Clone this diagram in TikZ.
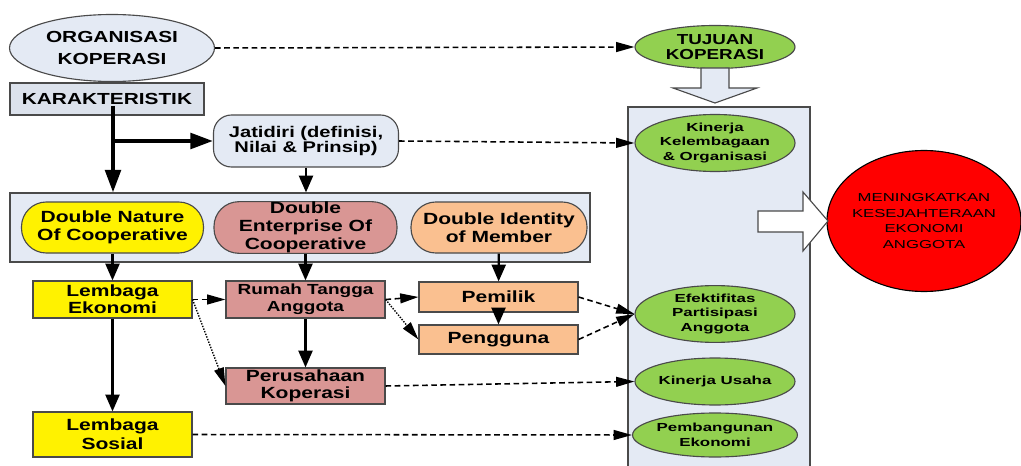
\documentclass[tikz,border=0pt]{standalone}
\usepackage{fontspec}
\setmainfont{Liberation Sans}[FakeStretch=1.3]
\newfontfamily\wideface{Liberation Sans}[FakeStretch=1.45]
\usetikzlibrary{arrows.meta,shapes.geometric,calc}
\definecolor{paleblue}{HTML}{E4EAF4}
\definecolor{greyblue}{HTML}{DCE2EC}
\definecolor{linegray}{HTML}{4A4A4A}
\definecolor{leaf}{HTML}{92D050}
\definecolor{rose}{HTML}{D99694}
\definecolor{apricot}{HTML}{FAC090}
\newcommand{\pxu}{0.025cm}
\newcommand{\mainfnt}[2]{\bfseries\fontsize{#1}{#2}\selectfont}

\begin{document}
\begin{tikzpicture}
    [x=\pxu, y=-\pxu,
    box/.style={rectangle, draw=linegray, line width=0.8pt,
        inner sep=0pt, align=center, font=\mainfnt{11.5}{12.3}},
    pill/.style={box, rounded corners=0.62cm,
        minimum width=182*\pxu, minimum height=51*\pxu, font=\mainfnt{11.5}{13}},
    oval/.style={ellipse, draw=linegray, line width=0.8pt,
        inner sep=0pt, align=center},
    goal/.style={oval, fill=leaf, minimum width=160*\pxu,
        font=\wideface\bfseries\fontsize{8.3}{10.4}\selectfont},
    link/.style={-{Triangle[length=12pt,width=10pt]}, line width=1.6pt},
    heavy/.style={-{Triangle[length=16pt,width=11pt]}, line width=2.8pt},
    dashlink/.style={-{Triangle[length=13pt,width=7pt]}, line width=1.1pt,
        dash pattern=on 4pt off 2.5pt},
    dotlink/.style={-{Triangle[length=13pt,width=7pt]}, line width=1pt,
        dash pattern=on 1pt off 1pt},
    blockarrow/.style={draw=linegray, line width=0.8pt, line join=miter}]

    \useasboundingbox (0,0) rectangle (1021,466);

    % right column
    \fill[paleblue] (628,107) rectangle (810,470);
    \draw[linegray, line width=1pt] (628,470) |- (810,107) -- (810,470);

    % left side
    \node[oval, fill=paleblue, minimum width=205*\pxu, minimum height=67*\pxu,
        font=\mainfnt{11.4}{15.4}] (org) at (112,48) {ORGANISASI\\KOPERASI};
    \node[box, fill=greyblue, minimum width=194*\pxu, minimum height=32*\pxu,
        font=\mainfnt{11.4}{13}] (karak) at (107,99) {KARAKTERISTIK};
    \node[box, fill=paleblue, rounded corners=0.45cm, minimum width=185*\pxu,
        minimum height=52*\pxu, font=\mainfnt{11}{11}] (jati) at (306,141)
        {Jatidiri (definisi,\\Nilai \& Prinsip)};

    \node[box, fill=paleblue, minimum width=580*\pxu, minimum height=69*\pxu]
        (traits) at (300,227.5) {};
    \node[pill, fill=yellow] (nature) at (112.5,227.5)
        {Double Nature\\Of Cooperative};
    \node[pill, fill=rose, minimum width=183*\pxu] (enterprise) at (305.5,227.5)
        {Double\\Enterprise Of\\Cooperative};
    \node[pill, fill=apricot, minimum width=176*\pxu] (identity) at (499,227.5)
        {Double Identity\\of Member};

    \node[box, fill=yellow, minimum width=159*\pxu, minimum height=37*\pxu]
        (lekon) at (112.5,299.5) {Lembaga\\Ekonomi};
    \node[box, fill=rose, minimum width=159*\pxu, minimum height=37*\pxu,
        font=\mainfnt{10.4}{12}] (rumah) at (305.5,299.5) {Rumah Tangga\\Anggota};
    \node[box, fill=apricot, minimum width=159*\pxu, minimum height=30*\pxu]
        (pemilik) at (498.5,297) {Pemilik};
    \node[box, fill=apricot, minimum width=159*\pxu, minimum height=29*\pxu]
        (pengguna) at (498.5,339.5) {Pengguna};
    \node[box, fill=rose, minimum width=159*\pxu, minimum height=36*\pxu]
        (perus) at (305.5,386) {Perusahaan\\Koperasi};
    \node[box, fill=yellow, minimum width=159*\pxu, minimum height=45*\pxu,
        font=\mainfnt{11.5}{13.5}] (lsosial) at (112.5,434.5) {Lembaga\\Sosial};

    % goals
    \node[goal, minimum height=43*\pxu, font=\mainfnt{10.3}{10.7}]
        (tujuan) at (715,47) {TUJUAN\\KOPERASI};
    \node[goal, minimum height=57*\pxu, inner ysep=-2pt] (kkel) at (715,143)
        {Kinerja\\Kelembagaan\\\& Organisasi};
    \node[goal, minimum height=51*\pxu] (efek) at (715,314)
        {Efektifitas\\Partisipasi\\Anggota};
    \node[goal, minimum height=47*\pxu] (kusaha) at (715,381.5) {Kinerja Usaha};
    \node[goal, minimum height=44*\pxu] (pemb) at (715,435)
        {Pembangunan\\Ekonomi};

    \node[oval, fill=red, draw=black, minimum width=194*\pxu,
        minimum height=141*\pxu, inner xsep=-12pt,
        font=\wideface\fontsize{8.2}{11}\selectfont] (sejahtera) at (924,221)
        {MENINGKATKAN\\KESEJAHTERAAN\\EKONOMI\\ANGGOTA};

    % block arrows
    \draw[blockarrow, fill=paleblue] (701,68) -- (729,68) -- (729,88)
        -- (757,88) -- (715,103) -- (673,88) -- (701,88) -- cycle;
    \draw[blockarrow, fill=white] (758,211) -- (803,211) -- (803,192)
        -- (828,221) -- (803,251) -- (803,232) -- (758,232) -- cycle;

    % connectors
    \coordinate (stem) at (113,106);
    \draw[heavy] (stem) -- (stem |- traits.north);
    \draw[heavy] (stem |- jati.west) -- (jati.west);
    \draw[link] (jati.south) -- (jati.south |- traits.north);

    \path[link]
        (nature)      edge (lekon)
        (enterprise)  edge (rumah)
        (identity)    edge (pemilik)
        (pemilik)     edge (pengguna)
        (rumah)       edge (perus)
        (lekon)       edge (lsosial);

    \path[dashlink]
        (org.east)      edge (tujuan.west)
        (jati.east)     edge (kkel.west)
        (lekon.east)    edge (rumah.west)
        (rumah.east)    edge (pemilik.west)
        (pemilik.east)  edge (efek.west)
        (pengguna.east) edge (efek.west)
        (perus.east)    edge (kusaha.west)
        (lsosial.east)  edge (pemb.west);

    \path[dotlink]
        (lekon.east) edge (perus.west)
        (rumah.east) edge (pengguna.west);
\end{tikzpicture}
\end{document}
